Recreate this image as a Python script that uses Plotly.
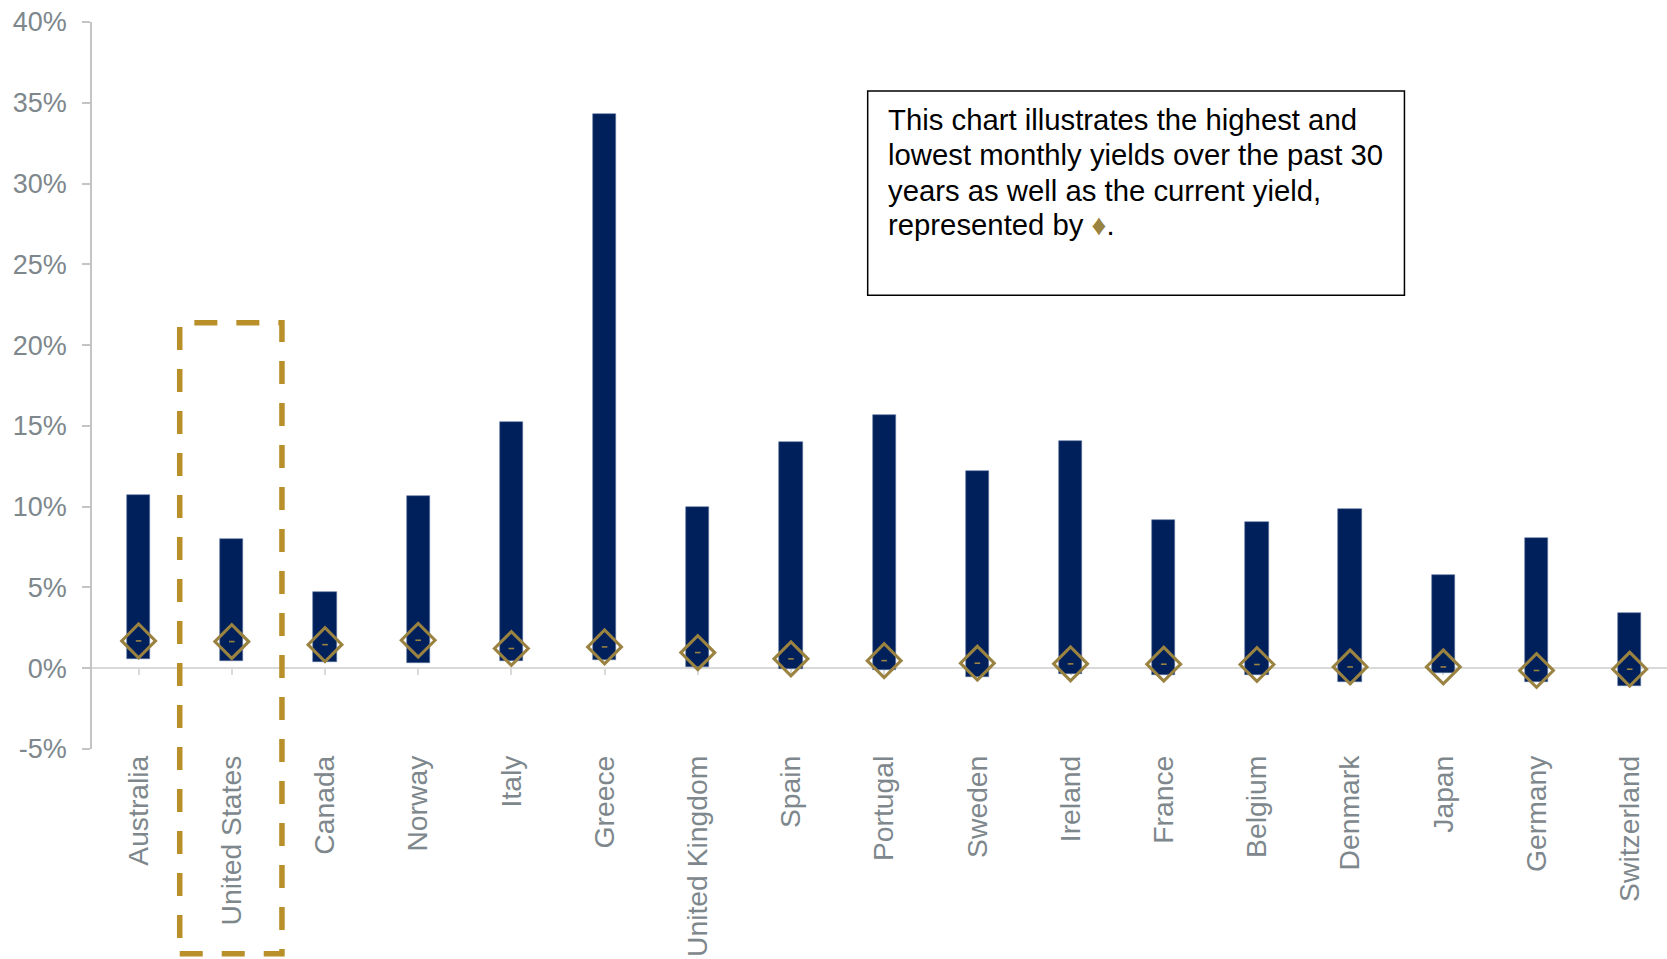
import plotly.graph_objects as go

# 30-year range of monthly 10-year government bond yields (%) and current yield
countries = ["Australia", "United States", "Canada", "Norway", "Italy", "Greece",
             "United Kingdom", "Spain", "Portugal", "Sweden", "Ireland", "France",
             "Belgium", "Denmark", "Japan", "Germany", "Switzerland"]
high_yield = [10.70, 8.02, 4.73, 10.64, 15.24, 34.28, 9.99, 14.00, 15.70, 12.20,
              14.06, 9.20, 9.07, 9.86, 5.78, 8.08, 3.42]
low_yield = [0.58, 0.47, 0.41, 0.31, 0.43, 0.49, 0.06, -0.04, -0.08, -0.54,
             -0.33, -0.45, -0.43, -0.85, -0.31, -0.87, -1.11]
current_yield = [1.69, 1.65, 1.46, 1.73, 1.22, 1.32, 0.97, 0.58, 0.47, 0.31,
                 0.27, 0.25, 0.23, 0.08, 0.08, -0.14, -0.06]

y_tick_vals = [-5, 0, 5, 10, 15, 20, 25, 30, 35, 40]
y_tick_text = ["-5%", "0%", "5%", "10%", "15%", "20%", "25%", "30%", "35%", "40%"]

NAVY = "#00205B"
GOLD = "#9A8241"
BOX_GOLD = "#B88F29"
GRAY_TXT = "#7D878C"
AXIS_GRAY = "#C4C4C4"
FONT = "Liberation Sans, Arial, sans-serif"

note_lines = [
    "This chart illustrates the highest and",
    "lowest monthly yields over the past 30",
    "years as well as the current yield,",
    f"represented by <span style='color:{GOLD}'>♦</span>.",
]

x_range = [-0.5, 16.4]

fig = go.Figure()

# floating bars: low -> high
fig.add_trace(go.Bar(
    x=countries,
    y=[h - l for h, l in zip(high_yield, low_yield)],
    base=low_yield,
    width=0.25,
    marker=dict(color=NAVY, line=dict(width=0.6, color="#5C75A3")),
    showlegend=False,
    hoverinfo="skip",
))

# current yield: open diamond with a small centre dash
fig.add_trace(go.Scatter(
    x=countries, y=current_yield, mode="markers",
    marker=dict(symbol="diamond-open", size=26, color=GOLD,
                line=dict(width=3.1, color=GOLD)),
    showlegend=False, hoverinfo="skip",
))
fig.add_trace(go.Scatter(
    x=countries, y=current_yield, mode="markers",
    marker=dict(symbol="line-ew", size=4, color=GOLD,
                line=dict(width=1.6, color=GOLD)),
    showlegend=False, hoverinfo="skip",
))

# helper trace so the zero-line axis (x2) is drawn
fig.add_trace(go.Scatter(
    x=list(range(len(countries))), y=[0] * len(countries), mode="markers",
    marker=dict(opacity=0), xaxis="x2", showlegend=False, hoverinfo="skip",
))

fig.update_layout(
    width=1667, height=959,
    margin=dict(l=92, r=0, t=22, b=210),
    paper_bgcolor="white", plot_bgcolor="white",
    font=dict(family=FONT, color=GRAY_TXT, size=27),
    bargap=0,
    xaxis=dict(
        type="category", range=x_range, showgrid=False, showline=False,
        ticks="", tickangle=-90, zeroline=False,
        tickfont=dict(family=FONT, size=28.3, color=GRAY_TXT),
    ),
    xaxis2=dict(
        overlaying="x", anchor="free", position=5 / 45, range=x_range,
        tickmode="array", tickvals=list(range(len(countries))),
        showticklabels=False, showgrid=False, zeroline=False,
        showline=True, linecolor="#D9D9D9", linewidth=2,
        ticks="outside", ticklen=6, tickwidth=1.5, tickcolor="#D9D9D9",
        layer="below traces",
    ),
    yaxis=dict(
        range=[-5, 40], tickmode="array", tickvals=y_tick_vals, ticktext=y_tick_text,
        showgrid=False, zeroline=False, showline=True, linecolor=AXIS_GRAY,
        linewidth=1.5, ticks="outside", ticklen=8, tickwidth=1.5, tickcolor=AXIS_GRAY,
        ticklabelstandoff=10,
        tickfont=dict(family=FONT, size=27, color=GRAY_TXT),
    ),
)

# explanatory note box
fig.add_shape(type="rect", xref="paper", yref="paper",
              x0=0.4925, x1=0.8333, y0=0.6241, y1=0.9052,
              line=dict(color="black", width=1.5), fillcolor="rgba(0,0,0,0)")
note_y = [0.8652, 0.8171, 0.7689, 0.7208]
for line_text, ypos in zip(note_lines, note_y):
    fig.add_annotation(
        xref="paper", yref="paper", x=0.5041, y=ypos, xanchor="left", yanchor="middle",
        align="left", showarrow=False, text=line_text,
        font=dict(family=FONT, size=29.3, color="black"),
    )

# dashed highlight around the United States
fig.add_shape(type="rect", xref="paper", yref="paper",
              x0=0.0557, x1=0.1206, y0=-0.2818, y1=0.5864,
              line=dict(color=BOX_GOLD, width=5.5, dash="23px,19px"),
              fillcolor="rgba(0,0,0,0)")

fig.write_html("out.html")
